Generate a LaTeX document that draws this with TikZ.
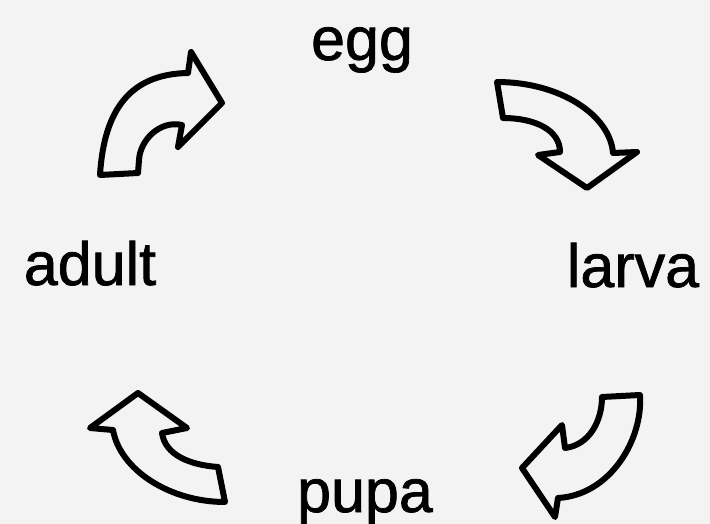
\documentclass[tikz,border=0pt]{standalone}
\usepackage{fontspec}
\setmainfont{Liberation Sans}
\newfontfamily\stagefont[FakeBold=1.2]{Liberation Sans}
\definecolor{bgc}{HTML}{F3F3F3}
\begin{document}
\begin{tikzpicture}[x=1pt,y=-1pt,
  stagelabel/.style={anchor=base,inner sep=0pt,font=\stagefont\fontsize{61}{61}\selectfont},
  blockarrow/.style={draw=black,line width=6pt,line join=round,fill=bgc}]
\fill[bgc] (0,0) rectangle (710,524);
\useasboundingbox (0,0) rectangle (710,524);
% labels
\node[stagelabel] (egg) at (362,60) {egg};
\node[stagelabel] (larva) at (633,287) {larva};
\node[stagelabel] (adult) at (90,285) {adult};
\node[stagelabel] (pupa) at (365,512) {pupa};
% arrow adult -> egg
\draw[blockarrow] (100,175) .. controls (104,110) and (130,74) .. (188,73)
  -- (191,52) -- (222,103) -- (178,147) -- (182,125)
  .. controls (160,120) and (140,140) .. (139,160) -- (138,173) -- cycle;
% arrow egg -> larva
\draw[blockarrow] (497,82) .. controls (560,82) and (610,115) .. (613,153)
  -- (637,152) -- (587,188) -- (538,155) -- (560,152)
  .. controls (560,130) and (535,118) .. (503,118) -- cycle;
% arrow larva -> pupa
\draw[blockarrow] (602,397) -- (640,395) .. controls (643,440) and (610,495) .. (558,498)
  -- (555,517) -- (522,468) -- (562,425) -- (565,448)
  .. controls (590,445) and (602,420) .. cycle;
% arrow pupa -> adult
\draw[blockarrow] (218,467) -- (225,502) .. controls (170,502) and (120,470) .. (113,430)
  -- (90,428) -- (138,393) -- (187,428) -- (162,433)
  .. controls (165,455) and (190,465) .. cycle;
\end{tikzpicture}
\end{document}
